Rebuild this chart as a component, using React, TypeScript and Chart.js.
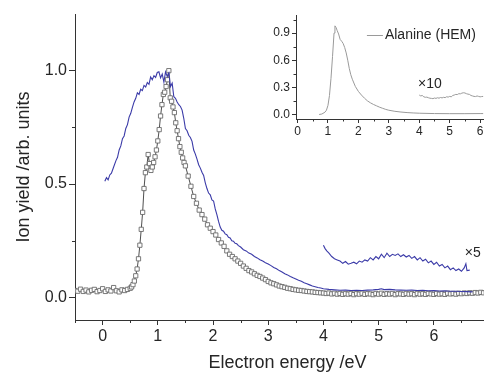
import React, { useEffect, useRef } from "react";
import { Chart, registerables } from "chart.js";
Chart.register(...registerables);

const FONT = "'Liberation Sans', Arial, Helvetica, sans-serif";

// Main plot: electron energy (eV) vs ion yield
const mainXTicks = [0, 1, 2, 3, 4, 5, 6, 7];
const mainXMinor = [-0.5, 0.5, 1.5, 2.5, 3.5, 4.5, 5.5, 6.5];
const mainYTicks = [0, 0.5, 1.0];
const mainYMinor = [0.25, 0.75];

const blackSquares: [number, number][] = [
  [-0.5, 0.03], [-0.45, 0.027], [-0.4, 0.036], [-0.35, 0.026], [-0.3, 0.032], [-0.25, 0.024], [-0.2, 0.031],
  [-0.15, 0.035], [-0.1, 0.025], [-0.05, 0.03], [0.0, 0.038], [0.05, 0.026], [0.1, 0.033], [0.15, 0.028],
  [0.2, 0.043], [0.25, 0.029], [0.3, 0.024], [0.35, 0.033], [0.4, 0.03], [0.45, 0.035], [0.5, 0.04],
  [0.525, 0.046], [0.55, 0.056], [0.575, 0.072], [0.6, 0.095], [0.625, 0.125], [0.65, 0.17], [0.675, 0.23],
  [0.7, 0.3], [0.725, 0.375], [0.75, 0.48], [0.775, 0.55], [0.8, 0.575], [0.825, 0.63], [0.85, 0.59],
  [0.875, 0.56], [0.9, 0.575], [0.925, 0.595], [0.95, 0.62], [0.975, 0.65], [1.0, 0.69], [1.025, 0.74],
  [1.05, 0.8], [1.075, 0.85], [1.1, 0.895], [1.125, 0.905], [1.15, 0.93], [1.175, 0.96], [1.2, 1.0],
  [1.225, 0.88], [1.25, 0.865], [1.275, 0.84], [1.3, 0.815], [1.325, 0.77], [1.35, 0.735], [1.375, 0.7],
  [1.4, 0.665], [1.425, 0.64], [1.45, 0.615], [1.475, 0.595], [1.5, 0.58],
  [1.55, 0.535], [1.6, 0.49], [1.65, 0.445], [1.7, 0.415], [1.75, 0.385], [1.8, 0.365], [1.85, 0.345],
  [1.9, 0.32], [1.95, 0.305], [2.0, 0.29], [2.05, 0.275], [2.1, 0.255], [2.15, 0.24], [2.2, 0.225],
  [2.25, 0.205], [2.3, 0.19], [2.35, 0.18], [2.4, 0.17], [2.45, 0.16], [2.5, 0.15], [2.55, 0.138],
  [2.6, 0.128], [2.65, 0.118], [2.7, 0.112], [2.75, 0.104], [2.8, 0.097], [2.85, 0.092], [2.9, 0.085],
  [2.95, 0.078], [3.0, 0.07], [3.05, 0.064], [3.1, 0.06], [3.15, 0.055], [3.2, 0.05], [3.25, 0.047],
  [3.3, 0.044], [3.35, 0.04], [3.4, 0.038], [3.45, 0.035], [3.5, 0.033], [3.55, 0.031], [3.6, 0.03],
  [3.65, 0.028], [3.7, 0.026], [3.75, 0.025], [3.8, 0.024], [3.85, 0.022], [3.9, 0.021], [3.95, 0.02],
  [4.0, 0.019], [4.05, 0.017], [4.1, 0.019], [4.15, 0.015], [4.2, 0.018], [4.25, 0.014], [4.3, 0.017],
  [4.35, 0.013], [4.4, 0.016], [4.45, 0.014], [4.5, 0.017], [4.55, 0.012], [4.6, 0.016], [4.65, 0.014],
  [4.7, 0.018], [4.75, 0.013], [4.8, 0.016], [4.85, 0.015], [4.9, 0.012], [4.95, 0.017], [5.0, 0.014],
  [5.05, 0.018], [5.1, 0.013], [5.15, 0.016], [5.2, 0.014], [5.25, 0.017], [5.3, 0.012], [5.35, 0.016],
  [5.4, 0.015], [5.45, 0.013], [5.5, 0.017], [5.55, 0.014], [5.6, 0.016], [5.65, 0.012], [5.7, 0.017],
  [5.75, 0.014], [5.8, 0.016], [5.85, 0.013], [5.9, 0.017], [5.95, 0.015], [6.0, 0.013], [6.05, 0.017],
  [6.1, 0.014], [6.15, 0.016], [6.2, 0.013], [6.25, 0.018], [6.3, 0.015], [6.35, 0.017], [6.4, 0.014],
  [6.45, 0.018], [6.5, 0.016], [6.55, 0.019], [6.6, 0.017], [6.65, 0.02], [6.7, 0.018], [6.75, 0.021],
  [6.8, 0.019], [6.85, 0.022], [6.9, 0.02], [6.95, 0.023], [7.0, 0.021],
];

const blueLine: [number, number][] = [
  [0.04, 0.512], [0.07, 0.528], [0.1, 0.518], [0.13, 0.54], [0.16, 0.548], [0.2, 0.575], [0.24, 0.602],
  [0.27, 0.618], [0.3, 0.65], [0.33, 0.668], [0.36, 0.7], [0.39, 0.712], [0.42, 0.745], [0.45, 0.762],
  [0.48, 0.795], [0.51, 0.812], [0.54, 0.838], [0.57, 0.862], [0.6, 0.878], [0.63, 0.902], [0.66, 0.895],
  [0.69, 0.918], [0.72, 0.912], [0.75, 0.935], [0.78, 0.928], [0.81, 0.948], [0.84, 0.94], [0.87, 0.972],
  [0.9, 0.96], [0.93, 0.978], [0.96, 0.97], [0.99, 0.992], [1.02, 0.995], [1.05, 0.968], [1.08, 0.985],
  [1.11, 0.95], [1.14, 0.995], [1.17, 0.975], [1.2, 0.99], [1.23, 0.93], [1.26, 0.945], [1.29, 0.885],
  [1.32, 0.878], [1.35, 0.862], [1.38, 0.85], [1.41, 0.842], [1.44, 0.826], [1.47, 0.79], [1.5, 0.745],
  [1.53, 0.735], [1.56, 0.715], [1.59, 0.705], [1.62, 0.688], [1.65, 0.65], [1.68, 0.632], [1.71, 0.61],
  [1.74, 0.585], [1.77, 0.57], [1.8, 0.552], [1.83, 0.538], [1.86, 0.505], [1.89, 0.48], [1.92, 0.46],
  [1.95, 0.452], [1.98, 0.43], [2.01, 0.425], [2.04, 0.39], [2.07, 0.365], [2.1, 0.335], [2.13, 0.31],
  [2.16, 0.296], [2.19, 0.292], [2.22, 0.28], [2.25, 0.276], [2.28, 0.265], [2.31, 0.262], [2.34, 0.25],
  [2.37, 0.248], [2.4, 0.238], [2.43, 0.236], [2.46, 0.228], [2.5, 0.222], [2.55, 0.21], [2.6, 0.205],
  [2.65, 0.195], [2.7, 0.19], [2.75, 0.18], [2.8, 0.174], [2.85, 0.166], [2.9, 0.16], [2.95, 0.153],
  [3.0, 0.147], [3.05, 0.14], [3.1, 0.132], [3.15, 0.126], [3.2, 0.118], [3.25, 0.112], [3.3, 0.104],
  [3.35, 0.099], [3.4, 0.092], [3.45, 0.086], [3.5, 0.081], [3.55, 0.075], [3.6, 0.071], [3.65, 0.064],
  [3.7, 0.06], [3.75, 0.055], [3.8, 0.05], [3.85, 0.047], [3.9, 0.043], [3.95, 0.041], [4.0, 0.038],
  [4.1, 0.035], [4.2, 0.033], [4.3, 0.031], [4.4, 0.032], [4.5, 0.03], [4.6, 0.031], [4.7, 0.03],
  [4.8, 0.032], [4.9, 0.033], [5.0, 0.035], [5.05, 0.038], [5.1, 0.034], [5.2, 0.035], [5.3, 0.033],
  [5.4, 0.032], [5.5, 0.031], [5.6, 0.032], [5.7, 0.03], [5.8, 0.031], [5.9, 0.029], [6.0, 0.03],
  [6.1, 0.028], [6.2, 0.029], [6.3, 0.027], [6.4, 0.027], [6.5, 0.026], [6.6, 0.025], [6.7, 0.024],
];

const blueTimes5: [number, number][] = [
  [4.0, 0.23], [4.03, 0.215], [4.06, 0.205], [4.1, 0.195], [4.15, 0.18], [4.2, 0.17], [4.25, 0.165],
  [4.3, 0.16], [4.35, 0.15], [4.4, 0.158], [4.45, 0.146], [4.5, 0.15], [4.55, 0.155], [4.6, 0.148],
  [4.65, 0.16], [4.7, 0.155], [4.75, 0.165], [4.8, 0.16], [4.85, 0.175], [4.9, 0.165], [4.95, 0.18],
  [5.0, 0.17], [5.05, 0.19], [5.1, 0.175], [5.15, 0.195], [5.2, 0.18], [5.25, 0.19], [5.3, 0.185],
  [5.35, 0.192], [5.4, 0.18], [5.45, 0.188], [5.5, 0.178], [5.55, 0.185], [5.6, 0.172], [5.65, 0.18],
  [5.7, 0.165], [5.75, 0.175], [5.8, 0.16], [5.85, 0.168], [5.9, 0.152], [5.95, 0.16], [6.0, 0.145],
  [6.05, 0.155], [6.1, 0.138], [6.15, 0.145], [6.2, 0.13], [6.25, 0.138], [6.3, 0.122], [6.35, 0.13],
  [6.4, 0.118], [6.45, 0.125], [6.5, 0.115], [6.55, 0.13], [6.58, 0.148], [6.6, 0.118], [6.65, 0.12],
];

// Inset: Alanine (HEM)
const insetXTicks = [0, 1, 2, 3, 4, 5, 6];
const insetXMinor = [0.5, 1.5, 2.5, 3.5, 4.5, 5.5];
const insetYTicks = [0, 0.3, 0.6, 0.9];
const insetYMinor = [0.15, 0.45, 0.75, 1.05];
const insetLabel = "Alanine (HEM)";

const alanine: [number, number][] = [
  [0.71, 0.0], [0.8, 0.005], [0.9, 0.025], [0.95, 0.047], [1.0, 0.1], [1.05, 0.21], [1.1, 0.4],
  [1.15, 0.64], [1.2, 0.9], [1.23, 0.98], [1.27, 0.96], [1.3, 0.93], [1.35, 0.89], [1.4, 0.83],
  [1.45, 0.81], [1.5, 0.785], [1.55, 0.74], [1.6, 0.68], [1.65, 0.6], [1.7, 0.51], [1.75, 0.44],
  [1.8, 0.39], [1.9, 0.31], [2.0, 0.255], [2.1, 0.215], [2.2, 0.18], [2.3, 0.15], [2.4, 0.128],
  [2.5, 0.11], [2.6, 0.095], [2.7, 0.08], [2.8, 0.068], [2.9, 0.056], [3.0, 0.047], [3.2, 0.035],
  [3.4, 0.027], [3.6, 0.021], [3.8, 0.017], [4.0, 0.014], [4.5, 0.01], [5.0, 0.009], [5.5, 0.009],
  [6.0, 0.01], [6.1, 0.01],
];

const alanineTimes10: [number, number][] = [
  [4.0, 0.215], [4.05, 0.205], [4.1, 0.21], [4.15, 0.195], [4.2, 0.19], [4.25, 0.192], [4.3, 0.185],
  [4.35, 0.18], [4.4, 0.178], [4.45, 0.175], [4.5, 0.182], [4.55, 0.178], [4.6, 0.185], [4.65, 0.18],
  [4.7, 0.188], [4.75, 0.183], [4.8, 0.19], [4.85, 0.186], [4.9, 0.196], [4.95, 0.192], [5.0, 0.2],
  [5.05, 0.195], [5.1, 0.21], [5.15, 0.215], [5.2, 0.222], [5.25, 0.22], [5.3, 0.23], [5.35, 0.228],
  [5.4, 0.236], [5.45, 0.24], [5.5, 0.238], [5.55, 0.23], [5.6, 0.225], [5.65, 0.222], [5.7, 0.21],
  [5.75, 0.205], [5.8, 0.2], [5.85, 0.198], [5.9, 0.205], [5.95, 0.2], [6.0, 0.195], [6.05, 0.198],
  [6.1, 0.2],
];

const toXY = (arr: [number, number][]) => arr.map(([x, y]) => ({ x, y }));

const minorTicksPlugin = {
  id: "minorTicks",
  afterDraw(chart: any, _args: any, opts: any) {
    const { ctx } = chart;
    const xs = chart.scales.x;
    const ys = chart.scales.y;
    ctx.save();
    ctx.strokeStyle = opts.color || "#333";
    ctx.lineWidth = 1;
    (opts.x || []).forEach((v: number) => {
      const p = Math.round(xs.getPixelForValue(v)) + 0.5;
      ctx.beginPath();
      ctx.moveTo(p, xs.top);
      ctx.lineTo(p, xs.top + opts.len);
      ctx.stroke();
    });
    (opts.y || []).forEach((v: number) => {
      const p = Math.round(ys.getPixelForValue(v)) + 0.5;
      ctx.beginPath();
      ctx.moveTo(ys.right, p);
      ctx.lineTo(ys.right - opts.len, p);
      ctx.stroke();
    });
    ctx.restore();
  },
};

const notesPlugin = {
  id: "notes",
  afterDatasetsDraw(chart: any, _args: any, opts: any) {
    const { ctx } = chart;
    const xs = chart.scales.x;
    const ys = chart.scales.y;
    ctx.save();
    ctx.textAlign = "left";
    ctx.textBaseline = "middle";
    (opts.items || []).forEach((n: any) => {
      ctx.font = `${n.size}px ${FONT}`;
      ctx.fillStyle = n.color;
      ctx.fillText(n.text, xs.getPixelForValue(n.x), ys.getPixelForValue(n.y));
    });
    const lg = opts.legend;
    if (lg) {
      const ds = chart.data.datasets[lg.dataset];
      const px = xs.getPixelForValue(lg.x);
      const py = Math.round(ys.getPixelForValue(lg.y)) + 0.5;
      ctx.strokeStyle = ds.borderColor;
      ctx.lineWidth = 1;
      ctx.beginPath();
      ctx.moveTo(px, py);
      ctx.lineTo(px + lg.lineLen, py);
      ctx.stroke();
      ctx.font = `${lg.size}px ${FONT}`;
      ctx.fillStyle = lg.color;
      ctx.fillText(ds.label, px + lg.lineLen + 2, py);
    }
    ctx.restore();
  },
};

const axisColor = "#333";
const textColor = "#262626";

export default function App() {
  const mainRef = useRef<HTMLCanvasElement>(null);
  const insetRef = useRef<HTMLCanvasElement>(null);

  useEffect(() => {
    Chart.defaults.font.family = FONT;
    const main = new Chart(mainRef.current as HTMLCanvasElement, {
      type: "line",
      data: {
        datasets: [
          {
            label: "blue",
            data: toXY(blueLine),
            borderColor: "#3b3ba8",
            borderWidth: 1.1,
            pointRadius: 0,
            tension: 0,
          },
          {
            label: "blue x5",
            data: toXY(blueTimes5),
            borderColor: "#3b3ba8",
            borderWidth: 1.1,
            pointRadius: 0,
            tension: 0,
          },
          {
            label: "squares",
            data: toXY(blackSquares),
            borderColor: "#222",
            borderWidth: 0.8,
            pointStyle: "rect",
            pointRadius: 3.0,
            pointBorderColor: "#6a6a6a",
            pointBackgroundColor: "#ffffff",
            pointBorderWidth: 0.9,
            tension: 0,
          },
        ],
      },
      options: {
        responsive: false,
        animation: false,
        events: [],
        layout: { padding: { top: 14, right: 1.5, bottom: 0, left: 0 } },
        plugins: {
          legend: { display: false },
          tooltip: { enabled: false },
          minorTicks: { x: mainXMinor, y: mainYMinor, len: 3, color: axisColor },
          notes: {
            items: [{ text: "×5", x: 6.56, y: 0.195, size: 14, color: textColor }],
          },
        } as any,
        scales: {
          x: {
            type: "linear",
            min: -0.5,
            max: 7.2,
            afterBuildTicks: (s: any) => {
              s.ticks = mainXTicks.map((v) => ({ value: v }));
            },
            afterFit: (s: any) => {
              s.height = 52;
            },
            grid: { drawOnChartArea: false, drawTicks: true, tickLength: 5, color: axisColor },
            border: { display: true, color: axisColor, width: 1 },
            ticks: {
              color: textColor,
              font: { size: 16 },
              padding: 2,
              maxRotation: 0,
              autoSkip: false,
              callback: (v: any) => String(v),
            },
            title: {
              display: true,
              text: "Electron energy /eV",
              color: textColor,
              font: { size: 18, lineHeight: 1 },
              padding: { top: 0, bottom: 0 },
            },
          },
          y: {
            type: "linear",
            min: -0.1,
            max: 1.25,
            afterBuildTicks: (s: any) => {
              s.ticks = mainYTicks.map((v) => ({ value: v }));
            },
            afterFit: (s: any) => {
              s.width = 75;
            },
            grid: { drawOnChartArea: false, drawTicks: true, tickLength: 6, color: axisColor },
            border: { display: true, color: axisColor, width: 1 },
            ticks: {
              color: textColor,
              font: { size: 16 },
              padding: 2,
              callback: (v: any) => Number(v).toFixed(1),
            },
            title: {
              display: true,
              text: "Ion yield /arb. units",
              color: textColor,
              font: { size: 18, lineHeight: 1 },
              padding: { top: 15, bottom: 0 },
            },
          },
        },
      },
      plugins: [minorTicksPlugin, notesPlugin],
    } as any);

    const inset = new Chart(insetRef.current as HTMLCanvasElement, {
      type: "line",
      data: {
        datasets: [
          {
            label: insetLabel,
            data: toXY(alanine),
            borderColor: "#9a9a9a",
            borderWidth: 1,
            pointRadius: 0,
            tension: 0,
          },
          {
            label: "x10",
            data: toXY(alanineTimes10),
            borderColor: "#9a9a9a",
            borderWidth: 1,
            pointRadius: 0,
            tension: 0,
          },
        ],
      },
      options: {
        responsive: false,
        animation: false,
        events: [],
        layout: { padding: { top: 15, right: 3.8, bottom: 0, left: 0 } },
        plugins: {
          legend: { display: false },
          tooltip: { enabled: false },
          minorTicks: { x: insetXMinor, y: insetYMinor, len: 2.5, color: axisColor },
          notes: {
            items: [{ text: "×10", x: 3.96, y: 0.33, size: 14, color: textColor }],
            legend: { dataset: 0, x: 2.28, y: 0.88, lineLen: 16, size: 14, color: textColor },
          },
        } as any,
        scales: {
          x: {
            type: "linear",
            min: -0.05,
            max: 6.2,
            afterBuildTicks: (s: any) => {
              s.ticks = insetXTicks.map((v) => ({ value: v }));
            },
            afterFit: (s: any) => {
              s.height = 26;
            },
            grid: { drawOnChartArea: false, drawTicks: true, tickLength: 4, color: axisColor },
            border: { display: true, color: axisColor, width: 1 },
            ticks: {
              color: textColor,
              font: { size: 12 },
              padding: 1.5,
              maxRotation: 0,
              autoSkip: false,
              callback: (v: any) => String(v),
            },
          },
          y: {
            type: "linear",
            min: -0.05,
            max: 1.1,
            afterBuildTicks: (s: any) => {
              s.ticks = insetYTicks.map((v) => ({ value: v }));
            },
            afterFit: (s: any) => {
              s.width = 46;
            },
            grid: { drawOnChartArea: false, drawTicks: true, tickLength: 4, color: axisColor },
            border: { display: true, color: axisColor, width: 1 },
            ticks: {
              color: textColor,
              font: { size: 12 },
              padding: 2,
              callback: (v: any) => Number(v).toFixed(1),
            },
          },
        },
      },
      plugins: [minorTicksPlugin, notesPlugin],
    } as any);

    return () => {
      main.destroy();
      inset.destroy();
    };
  }, []);

  return (
    <div
      style={{
        position: "absolute",
        left: 0,
        top: 0,
        width: 484,
        height: 372,
        overflow: "hidden",
        background: "#ffffff",
      }}
    >
      <canvas
        ref={mainRef}
        width={505}
        height={372}
        style={{ position: "absolute", left: 0, top: 0, width: 505, height: 372 }}
      />
      <canvas
        ref={insetRef}
        width={240}
        height={145}
        style={{ position: "absolute", left: 250, top: 0, width: 240, height: 145 }}
      />
    </div>
  );
}
